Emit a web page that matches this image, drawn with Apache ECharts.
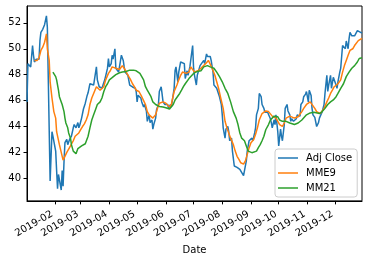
<!DOCTYPE html>
<html><head><meta charset="utf-8">
<script src="https://cdn.jsdelivr.net/npm/echarts@6/dist/echarts.min.js"></script>
<style>html,body{margin:0;padding:0;background:#fff}#c{width:368px;height:260px}</style>
</head><body><div id="c"></div>
<script>
const adjDates = ['2019-01-02','2019-01-03','2019-01-04','2019-01-06','2019-01-08','2019-01-09','2019-01-10','2019-01-12','2019-01-14','2019-01-15','2019-01-16','2019-01-17','2019-01-19','2019-01-20','2019-01-21','2019-01-23','2019-01-24','2019-01-27','2019-01-29','2019-01-30','2019-02-01','2019-02-02','2019-02-03','2019-02-04','2019-02-05','2019-02-07','2019-02-08','2019-02-09','2019-02-10','2019-02-11','2019-02-12','2019-02-14','2019-02-15','2019-02-17','2019-02-18','2019-02-19','2019-02-21','2019-02-22','2019-02-23','2019-02-24','2019-02-26','2019-02-27','2019-02-28','2019-03-02','2019-03-03','2019-03-04','2019-03-06','2019-03-08','2019-03-09','2019-03-11','2019-03-12','2019-03-13','2019-03-15','2019-03-16','2019-03-18','2019-03-19','2019-03-20','2019-03-21','2019-03-23','2019-03-24','2019-03-26','2019-03-27','2019-03-29','2019-03-30','2019-03-31','2019-04-01','2019-04-03','2019-04-04','2019-04-05','2019-04-07','2019-04-08','2019-04-10','2019-04-11','2019-04-13','2019-04-14','2019-04-16','2019-04-17','2019-04-18','2019-04-20','2019-04-21','2019-04-23','2019-04-24','2019-04-26','2019-04-27','2019-04-29','2019-04-30','2019-05-01','2019-05-02','2019-05-04','2019-05-05','2019-05-06','2019-05-08','2019-05-09','2019-05-11','2019-05-12','2019-05-14','2019-05-15','2019-05-17','2019-05-18','2019-05-19','2019-05-21','2019-05-22','2019-05-24','2019-05-25','2019-05-27','2019-05-28','2019-05-29','2019-05-31','2019-06-01','2019-06-03','2019-06-04','2019-06-06','2019-06-07','2019-06-09','2019-06-10','2019-06-11','2019-06-12','2019-06-14','2019-06-15','2019-06-17','2019-06-18','2019-06-19','2019-06-21','2019-06-22','2019-06-24','2019-06-25','2019-06-27','2019-06-28','2019-06-30','2019-07-01','2019-07-02','2019-07-04','2019-07-05','2019-07-07','2019-07-08','2019-07-10','2019-07-12','2019-07-13','2019-07-15','2019-07-16','2019-07-17','2019-07-19','2019-07-20','2019-07-22','2019-07-23','2019-07-25','2019-07-26','2019-07-28','2019-07-29','2019-07-31','2019-08-01','2019-08-02','2019-08-04','2019-08-05','2019-08-07','2019-08-08','2019-08-09','2019-08-11','2019-08-12','2019-08-14','2019-08-15','2019-08-17','2019-08-18','2019-08-20','2019-08-21','2019-08-22','2019-08-24','2019-08-25','2019-08-27','2019-08-28','2019-08-30','2019-08-31','2019-09-02','2019-09-03','2019-09-05','2019-09-06','2019-09-07','2019-09-09','2019-09-10','2019-09-12','2019-09-13','2019-09-15','2019-09-16','2019-09-17','2019-09-19','2019-09-20','2019-09-22','2019-09-23','2019-09-24','2019-09-26','2019-09-27','2019-09-28','2019-09-30','2019-10-01','2019-10-03','2019-10-04','2019-10-05','2019-10-07','2019-10-08','2019-10-10','2019-10-11','2019-10-13','2019-10-14','2019-10-15','2019-10-17','2019-10-18','2019-10-20','2019-10-21','2019-10-23','2019-10-24','2019-10-25','2019-10-27','2019-10-28','2019-10-30','2019-10-31','2019-11-02','2019-11-03','2019-11-05','2019-11-06','2019-11-07','2019-11-09','2019-11-10','2019-11-11','2019-11-13','2019-11-14','2019-11-16','2019-11-17','2019-11-19','2019-11-20','2019-11-22','2019-11-23','2019-11-24','2019-11-26','2019-11-27','2019-11-29','2019-11-30','2019-12-02','2019-12-03','2019-12-04','2019-12-06','2019-12-07','2019-12-09','2019-12-10','2019-12-12','2019-12-13','2019-12-15','2019-12-16','2019-12-17','2019-12-19','2019-12-20','2019-12-22','2019-12-23','2019-12-25','2019-12-26','2019-12-27','2019-12-30'];
const adjClose = [45.9,48.85,48.7,48.6,50.25,49.5,48.98,49.2,49.1,49.2,50.63,51.27,51.5,51.65,51.86,52.54,51.65,39.8,43.6,43.25,43.1,42.1,40.6,39.2,40.3,40.45,39.1,40.6,39.4,41.3,42.75,43.0,42.6,43.0,42.9,43.25,43.9,44.15,44.0,43.9,44.3,43.9,44.1,44.65,44.7,45.35,45.8,46.4,46.6,47.3,47.45,47.3,47.2,47.05,48.6,47.6,47.45,47.07,47.2,46.95,47.05,47.6,48.2,48.5,49.25,48.6,48.85,49.5,49.2,50.0,48.5,48.6,48.2,48.2,49.5,49.1,48.6,48.2,48.1,47.95,47.2,47.2,47.05,47.2,46.95,46.7,45.9,46.4,46.3,46.2,45.9,45.5,45.7,45.2,44.4,44.9,44.3,44.5,43.8,44.15,44.65,45.3,45.7,46.7,47.07,46.5,45.9,45.7,45.8,45.7,45.4,45.7,45.5,45.5,46.95,48.3,48.6,47.45,48.2,48.98,48.98,48.98,48.85,47.7,48.3,47.95,48.6,48.5,50.25,48.5,47.95,47.2,47.95,48.0,48.7,48.6,49.1,48.85,49.6,49.4,49.3,49.4,49.1,48.2,47.2,47.2,46.95,47.0,46.3,45.7,44.9,43.9,43.1,43.8,44.0,43.6,42.9,43.1,42.1,40.95,41.0,40.85,41.0,40.7,40.85,40.6,40.2,40.6,41.35,42.1,42.9,43.0,43.1,42.9,43.5,43.9,44.9,45.4,46.55,46.3,45.7,45.4,45.1,45.0,45.1,45.0,44.6,44.3,43.9,44.5,44.15,44.9,43.6,42.5,43.8,43.25,42.9,44.15,45.4,45.7,45.2,44.9,44.4,44.6,44.4,44.5,44.6,44.9,45.0,44.8,45.7,45.9,46.3,46.5,46.7,45.9,46.8,46.4,45.4,44.9,44.7,44.6,44.0,44.3,44.65,44.7,45.15,45.7,46.55,47.95,46.7,47.2,47.95,46.95,47.8,47.8,47.2,46.95,47.45,48.2,48.5,50.25,50.1,50.0,50.6,50.0,50.77,51.27,51.0,51.1,51.0,51.0,51.4,51.27,51.4,51.2];

const mme9Dates = ['2019-01-10','2019-01-13','2019-01-15','2019-01-17','2019-01-19','2019-01-21','2019-01-23','2019-01-24','2019-01-26','2019-01-27','2019-01-29','2019-01-31','2019-02-02','2019-02-03','2019-02-06','2019-02-08','2019-02-10','2019-02-12','2019-02-14','2019-02-16','2019-02-18','2019-02-21','2019-02-23','2019-02-25','2019-02-27','2019-03-01','2019-03-03','2019-03-05','2019-03-07','2019-03-09','2019-03-11','2019-03-13','2019-03-15','2019-03-18','2019-03-20','2019-03-22','2019-03-24','2019-03-26','2019-03-28','2019-03-31','2019-04-02','2019-04-04','2019-04-06','2019-04-08','2019-04-10','2019-04-12','2019-04-15','2019-04-17','2019-04-20','2019-04-22','2019-04-24','2019-04-26','2019-04-28','2019-04-30','2019-05-03','2019-05-06','2019-05-08','2019-05-10','2019-05-12','2019-05-14','2019-05-16','2019-05-18','2019-05-21','2019-05-23','2019-05-25','2019-05-27','2019-05-29','2019-06-01','2019-06-03','2019-06-05','2019-06-07','2019-06-08','2019-06-10','2019-06-13','2019-06-15','2019-06-17','2019-06-19','2019-06-21','2019-06-23','2019-06-26','2019-06-28','2019-06-30','2019-07-02','2019-07-04','2019-07-06','2019-07-09','2019-07-11','2019-07-14','2019-07-17','2019-07-19','2019-07-21','2019-07-24','2019-07-26','2019-07-28','2019-07-30','2019-08-02','2019-08-04','2019-08-06','2019-08-08','2019-08-10','2019-08-13','2019-08-15','2019-08-17','2019-08-19','2019-08-21','2019-08-24','2019-08-26','2019-08-28','2019-08-30','2019-09-01','2019-09-04','2019-09-06','2019-09-08','2019-09-10','2019-09-13','2019-09-15','2019-09-17','2019-09-20','2019-09-22','2019-09-24','2019-09-26','2019-09-28','2019-09-30','2019-10-02','2019-10-05','2019-10-07','2019-10-09','2019-10-11','2019-10-13','2019-10-15','2019-10-18','2019-10-20','2019-10-22','2019-10-24','2019-10-26','2019-10-28','2019-10-31','2019-11-02','2019-11-04','2019-11-06','2019-11-09','2019-11-11','2019-11-13','2019-11-15','2019-11-17','2019-11-19','2019-11-22','2019-11-24','2019-11-26','2019-11-28','2019-11-30','2019-12-02','2019-12-04','2019-12-07','2019-12-09','2019-12-11','2019-12-13','2019-12-15','2019-12-17','2019-12-20','2019-12-22','2019-12-24','2019-12-26','2019-12-28','2019-12-30'];
const mme9 = [49.1,49.1,49.3,49.87,50.12,50.5,51.15,50.0,49.1,47.45,46.2,45.15,44.65,43.6,42.6,42.0,41.4,41.7,42.0,42.1,42.5,42.9,43.25,43.35,43.5,43.75,44.0,44.2,44.5,44.9,45.7,46.2,46.55,47.07,46.95,46.8,46.7,47.07,47.6,48.1,48.3,48.6,48.5,48.5,48.5,48.4,48.7,48.5,48.1,47.85,47.6,47.3,47.07,46.8,46.7,46.3,46.0,45.7,45.15,44.9,44.8,44.65,44.9,45.4,45.8,45.9,45.9,45.8,45.7,45.5,45.7,46.05,46.7,47.2,47.6,47.95,48.2,48.2,48.1,48.2,48.6,48.6,48.2,48.1,48.3,48.5,48.6,48.85,49.1,48.98,48.5,47.95,47.45,46.95,46.3,45.4,44.4,43.9,43.5,43.1,42.6,42.1,41.7,41.47,41.2,41.1,41.35,41.85,42.35,42.75,43.0,43.4,43.9,44.5,45.0,45.15,45.2,45.15,45.0,44.8,44.65,44.65,44.4,44.15,44.0,44.27,44.65,44.8,44.8,44.7,44.65,44.65,44.75,44.9,45.15,45.4,45.7,45.8,45.9,45.8,45.4,45.15,45.0,45.0,45.15,45.4,45.9,46.2,46.55,46.8,47.07,47.2,47.3,47.6,48.2,48.7,49.1,49.5,49.87,50.0,50.25,50.38,50.63,50.77,50.8];

const mm21Dates = ['2019-01-30','2019-01-31','2019-02-02','2019-02-03','2019-02-05','2019-02-06','2019-02-08','2019-02-09','2019-02-11','2019-02-12','2019-02-13','2019-02-15','2019-02-16','2019-02-18','2019-02-19','2019-02-21','2019-02-24','2019-02-26','2019-02-28','2019-03-02','2019-03-04','2019-03-06','2019-03-07','2019-03-09','2019-03-11','2019-03-13','2019-03-15','2019-03-17','2019-03-19','2019-03-22','2019-03-24','2019-03-26','2019-03-28','2019-03-30','2019-04-01','2019-04-04','2019-04-06','2019-04-08','2019-04-10','2019-04-12','2019-04-15','2019-04-17','2019-04-19','2019-04-21','2019-04-23','2019-04-25','2019-04-27','2019-04-30','2019-05-02','2019-05-04','2019-05-06','2019-05-08','2019-05-10','2019-05-12','2019-05-14','2019-05-16','2019-05-18','2019-05-21','2019-05-23','2019-05-25','2019-05-27','2019-05-29','2019-06-01','2019-06-03','2019-06-05','2019-06-07','2019-06-09','2019-06-11','2019-06-13','2019-06-16','2019-06-18','2019-06-20','2019-06-22','2019-06-24','2019-06-26','2019-06-28','2019-07-01','2019-07-03','2019-07-05','2019-07-07','2019-07-09','2019-07-12','2019-07-16','2019-07-19','2019-07-23','2019-07-26','2019-07-29','2019-08-01','2019-08-04','2019-08-07','2019-08-10','2019-08-13','2019-08-16','2019-08-18','2019-08-20','2019-08-22','2019-08-25','2019-08-27','2019-08-29','2019-08-31','2019-09-02','2019-09-04','2019-09-07','2019-09-09','2019-09-11','2019-09-13','2019-09-15','2019-09-17','2019-09-20','2019-09-22','2019-09-24','2019-09-26','2019-09-28','2019-09-30','2019-10-02','2019-10-05','2019-10-07','2019-10-09','2019-10-11','2019-10-13','2019-10-15','2019-10-18','2019-10-20','2019-10-22','2019-10-24','2019-10-26','2019-10-28','2019-10-31','2019-11-02','2019-11-04','2019-11-06','2019-11-08','2019-11-10','2019-11-14','2019-11-17','2019-11-20','2019-11-23','2019-11-26','2019-11-29','2019-12-02','2019-12-04','2019-12-07','2019-12-10','2019-12-13','2019-12-16','2019-12-19','2019-12-22','2019-12-25','2019-12-27','2019-12-30'];
const mm21 = [48.2,48.1,47.85,47.6,46.8,46.3,45.9,45.7,45.15,44.65,44.27,43.9,43.5,43.1,42.6,42.1,41.9,42.3,42.35,42.5,42.5,42.67,42.75,43.25,43.9,44.5,44.9,45.3,45.7,45.9,46.2,46.7,47.07,47.3,47.6,47.77,47.9,48.0,48.1,48.15,48.2,48.2,48.25,48.3,48.35,48.4,48.35,48.3,48.2,48.1,47.85,47.6,47.07,46.8,46.55,46.3,45.9,45.7,45.55,45.55,45.55,45.5,45.45,45.4,45.35,45.3,45.7,46.05,46.2,46.55,46.8,47.07,47.3,47.45,47.7,47.85,48.1,48.2,48.25,48.3,48.3,48.6,48.7,48.6,48.5,48.2,47.85,47.45,46.95,46.55,45.9,45.15,44.65,44.15,43.5,43.1,42.9,42.5,42.1,41.98,41.98,42.0,42.1,42.37,42.6,42.9,43.25,43.75,44.15,44.5,44.65,44.8,44.8,44.75,44.5,44.4,44.42,44.4,44.35,44.27,44.2,44.15,44.2,44.27,44.35,44.5,44.65,44.9,45.0,45.05,45.1,45.1,45.0,45.0,45.15,45.4,45.7,45.9,46.05,46.3,46.55,46.95,47.3,47.85,48.2,48.5,48.7,48.98,49.25,49.3];

const monthTicks = ['2019-02-01','2019-03-01','2019-04-01','2019-05-01','2019-06-01','2019-07-01','2019-08-01','2019-09-01','2019-10-01','2019-11-01','2019-12-01'];
const yTicks = [40,42,44,46,48,50,52];

function ts(s){const p=s.split('-').map(Number);return new Date(p[0],p[1]-1,p[2]).getTime();}
function zip(d,v){return d.map((x,i)=>[ts(x),v[i]]);}

const font = 'DejaVu Sans';
const chart = echarts.init(document.getElementById('c'), null, {renderer:'canvas'});
const mkLine = (name, d, v, color) => ({
  name, type:'line', data: zip(d,v), symbol:'none', showSymbol:false,
  lineStyle:{color, width:1.5}, itemStyle:{color}, animation:false
});
chart.setOption({
  animation:false,
  textStyle:{fontFamily:font},
  grid:{left:27, right:6, top:6, bottom:58, show:true, borderColor:'#000', borderWidth:1, backgroundColor:'transparent'},
  xAxis:{
    type:'value', min:ts('2019-01-02'), max:ts('2019-12-30'),
    name:'Date', nameLocation:'middle', nameGap:40,
    nameTextStyle:{fontFamily:font, fontSize:10, color:'#000'},
    axisLine:{lineStyle:{color:'#000', width:1}},
    axisTick:{show:true, length:3.5, lineStyle:{color:'#000'}, customValues: monthTicks.map(ts)},
    axisLabel:{rotate:30, fontFamily:font, fontSize:10, color:'#000', margin:11, padding:[0,3,0,0],
      customValues: monthTicks.map(ts),
      formatter:function(v){const d=new Date(v);return d.getFullYear()+'-'+String(d.getMonth()+1).padStart(2,'0');}},
    splitLine:{show:false}
  },
  yAxis:{
    type:'value', min:38.26, max:53.3,
    axisLine:{show:true, lineStyle:{color:'#000', width:1}},
    axisTick:{show:true, length:3.5, lineStyle:{color:'#000'}, customValues: yTicks},
    axisLabel:{fontFamily:font, fontSize:10, color:'#000', margin:6, customValues: yTicks},
    splitLine:{show:false}
  },
  legend:{
    orient:'vertical', left:275, top:149,
    backgroundColor:'rgba(255,255,255,0.85)', borderColor:'#cccccc', borderWidth:1, borderRadius:3,
    padding:[3,5,3,3], itemWidth:20, itemHeight:1.5, itemGap:3, icon:'rect',
    textStyle:{fontFamily:font, fontSize:10, color:'#000', padding:[0,0,0,3], lineHeight:12},
    data:['Adj Close','MME9','MM21']
  },
  series:[
    mkLine('Adj Close', adjDates, adjClose, '#1f77b4'),
    mkLine('MME9', mme9Dates, mme9, '#ff7f0e'),
    mkLine('MM21', mm21Dates, mm21, '#2ca02c')
  ]
});
</script></body></html>
